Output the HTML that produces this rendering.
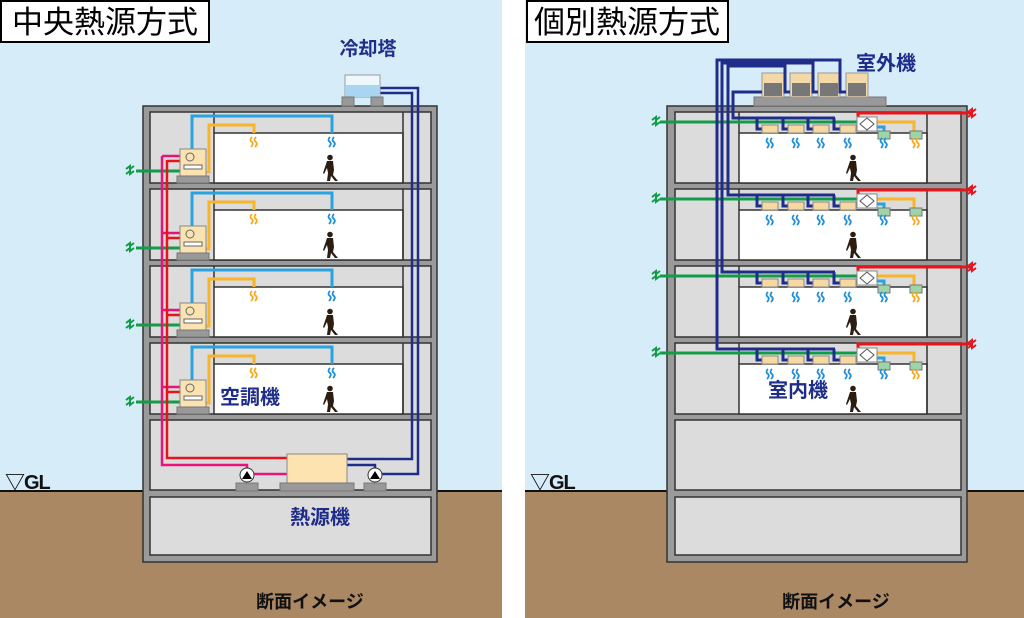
<!DOCTYPE html>
<html><head><meta charset="utf-8"><style>
html,body{margin:0;padding:0;background:#fff;width:1024px;height:618px;overflow:hidden}
svg{display:block}
.lb{font-family:"Liberation Sans","Noto Sans CJK JP",sans-serif;font-weight:bold;fill:#1f2d8a}
</style></head><body>
<svg width="1024" height="618" viewBox="0 0 1024 618" xmlns="http://www.w3.org/2000/svg">
<defs>
<g id="wv"><path d="M1,0 q-3,3 0,5 q2,2 -1,5 M5,0 q-3,3 0,5 q2,2 -1,5" fill="none" stroke-width="1.8"/></g>
<g id="sq"><path d="M0,3 l4,-3 l0,3 l4,-3 M0,8 l4,-3 l0,3 l4,-3" fill="none" stroke-width="2"/></g>
<g id="man" fill="#2b1d12">
<circle cx="3" cy="2.5" r="2.8"/>
<path d="M0,6 h6 l1,9 l-1,5 l5,6 h-3 l-4,-5 l-1,5 h-3 l1,-8 l-1,-5 l-3,6 l-1,-1 z"/>
</g>
<g id="fl">
<rect x="150" y="0" width="281" height="71" fill="#dcdcdc" stroke="#333" stroke-width="1.5"/>
<rect x="214" y="21" width="189" height="50" fill="#fff" stroke="#333" stroke-width="1.5"/>
<path d="M214,0V21M403,0V71" stroke="#333" stroke-width="1.5"/>
<path d="M192,37V4H332V21" fill="none" stroke="#29a3e0" stroke-width="3"/>
<path d="M206,60H209V13H254V21" fill="none" stroke="#f7b52c" stroke-width="3"/>
<use href="#wv" x="251" y="25" stroke="#f7a81c"/>
<use href="#wv" x="329" y="25" stroke="#1f8fd8"/>
<path d="M136,59H180" stroke="#139c47" stroke-width="3"/>
<use href="#sq" x="126" y="54" stroke="#139c47"/>
<path d="M162,44H180" stroke="#e8137d" stroke-width="2.5"/>
<path d="M167,49H180" stroke="#e8141c" stroke-width="2.5"/>
<rect x="180" y="37" width="26" height="27" fill="#fae3b0" stroke="#888"/>
<circle cx="190" cy="45" r="4" fill="none" stroke="#666"/>
<rect x="184" y="53" width="18" height="4" fill="#fff" stroke="#666"/>
<rect x="177" y="64" width="32" height="7" fill="#999" stroke="#777"/>
<use href="#man" x="327" y="43"/>
</g>
<g id="fr">
<rect x="675" y="0" width="286" height="71" fill="#dcdcdc" stroke="#333" stroke-width="1.5"/>
<rect x="739" y="21" width="188" height="50" fill="#fff" stroke="#333" stroke-width="1.5"/>
<path d="M739,0V21M927,0V71" stroke="#333" stroke-width="1.5"/>
<path d="M660,10H862" stroke="#139c47" stroke-width="3"/>
<use href="#sq" x="652" y="5" stroke="#139c47"/>
<path d="M972,1H858V9" fill="none" stroke="#e8141c" stroke-width="3"/>
<use href="#sq" x="968" y="-3" stroke="#e8141c"/>
<path d="M876,10H914V20" fill="none" stroke="#f7b52c" stroke-width="3"/>
<path d="M876,15H884V20" fill="none" stroke="#29a3e0" stroke-width="3"/>
<rect x="857" y="5" width="20" height="14" fill="#fff" stroke="#888"/>
<path d="M867,6l7,6l-7,6l-7,-6z" fill="#fff" stroke="#555"/>
<rect x="878" y="19" width="12" height="8" fill="#9fd4a8" stroke="#777"/>
<rect x="910" y="19" width="12" height="8" fill="#9fd4a8" stroke="#777"/>
<path d="M757,6V17H762M783,6V17H788M808,6V17H813M834,6V17H840" fill="none" stroke="#1f2d8a" stroke-width="3"/>
<rect x="762" y="13" width="16" height="8" fill="#f5d9a0" stroke="#888"/>
<rect x="788" y="13" width="16" height="8" fill="#f5d9a0" stroke="#888"/>
<rect x="813" y="13" width="16" height="8" fill="#f5d9a0" stroke="#888"/>
<rect x="840" y="13" width="16" height="8" fill="#f5d9a0" stroke="#888"/>
<use href="#wv" x="767" y="26" stroke="#1f8fd8"/>
<use href="#wv" x="793" y="26" stroke="#1f8fd8"/>
<use href="#wv" x="818" y="26" stroke="#1f8fd8"/>
<use href="#wv" x="845" y="26" stroke="#1f8fd8"/>
<use href="#wv" x="881" y="26" stroke="#1f8fd8"/>
<use href="#wv" x="913" y="26" stroke="#f7a81c"/>
<use href="#man" x="850" y="43"/>
</g>
</defs>
<rect x="0" y="0" width="502" height="491" fill="#d6ecf8"/>
<rect x="525" y="0" width="499" height="491" fill="#d6ecf8"/>
<rect x="0" y="491" width="502" height="127" fill="#ab8864"/>
<rect x="525" y="491" width="499" height="127" fill="#ab8864"/>
<path d="M0,491H502M525,491H1024" stroke="#111" stroke-width="2"/>
<rect x="143" y="106" width="294" height="456" fill="#9a9a9a" stroke="#333" stroke-width="1.5"/>
<use href="#fl" y="112"/><use href="#fl" y="189"/><use href="#fl" y="266"/><use href="#fl" y="343"/>
<rect x="150" y="420" width="281" height="70" fill="#dcdcdc" stroke="#333" stroke-width="1.5"/>
<rect x="150" y="497" width="281" height="58" fill="#dcdcdc" stroke="#333" stroke-width="1.5"/>
<path d="M162,156V465H247V470" fill="none" stroke="#e8137d" stroke-width="2.5"/>
<path d="M167,160V458H287" fill="none" stroke="#e8141c" stroke-width="2.5"/>
<path d="M253,474H287" stroke="#e8137d" stroke-width="2.5"/>
<path d="M347,459H412V93H378M347,465H375V470M381,474H418V88H378" fill="none" stroke="#1f2d8a" stroke-width="2.5"/>
<rect x="345" y="75" width="35" height="22" fill="#eef7fc" stroke="#999"/>
<rect x="346" y="85" width="33" height="12" fill="#a8d6f2"/>
<rect x="342" y="97" width="12" height="9" fill="#999" stroke="#777"/>
<rect x="371" y="97" width="12" height="9" fill="#999" stroke="#777"/>
<rect x="287" y="454" width="60" height="30" fill="#fce3b0" stroke="#888"/>
<rect x="280" y="483" width="74" height="8" fill="#999" stroke="#777"/>
<rect x="236" y="483" width="22" height="8" fill="#999" stroke="#777"/>
<rect x="364" y="483" width="22" height="8" fill="#999" stroke="#777"/>
<circle cx="247" cy="475" r="7" fill="#fff" stroke="#333"/><path d="M242,479l5,-8l5,8z" fill="#000"/>
<circle cx="375" cy="475" r="7" fill="#fff" stroke="#333"/><path d="M370,479l5,-8l5,8z" fill="#000"/>
<rect x="667" y="106" width="300" height="456" fill="#9a9a9a" stroke="#333" stroke-width="1.5"/>
<use href="#fr" y="112"/><use href="#fr" y="189"/><use href="#fr" y="266"/><use href="#fr" y="343"/>
<rect x="675" y="420" width="286" height="70" fill="#dcdcdc" stroke="#333" stroke-width="1.5"/>
<rect x="675" y="497" width="286" height="58" fill="#dcdcdc" stroke="#333" stroke-width="1.5"/>
<rect x="754" y="97" width="132" height="9" fill="#999" stroke="#777"/>
<g fill="#f3d9a8" stroke="#999">
<rect x="762" y="73" width="22" height="24"/><rect x="790" y="73" width="22" height="24"/>
<rect x="818" y="73" width="22" height="24"/><rect x="846" y="73" width="22" height="24"/></g>
<g fill="#777"><rect x="764" y="83" width="18" height="13"/><rect x="792" y="83" width="18" height="13"/><rect x="820" y="83" width="18" height="13"/><rect x="848" y="83" width="18" height="13"/></g>
<path d="M762,92H733V118H835M790,92H785V66H728V195H835M818,92H813V63H722V272H835M846,92H840V60H717V349H835" fill="none" stroke="#1f2d8a" stroke-width="3"/>
<rect x="1" y="1" width="208" height="41" fill="#fff" stroke="#000" stroke-width="2"/>
<text x="105" y="33" text-anchor="middle" font-family="Liberation Sans,'Noto Sans CJK JP',sans-serif" font-size="31">中央熱源方式</text>
<rect x="527" y="1" width="201" height="41" fill="#fff" stroke="#000" stroke-width="2"/>
<text x="627" y="33" text-anchor="middle" font-family="Liberation Sans,'Noto Sans CJK JP',sans-serif" font-size="31">個別熱源方式</text>
<text class="lb" x="368" y="55" text-anchor="middle" font-size="19">冷却塔</text>
<text class="lb" x="250" y="404" text-anchor="middle" font-size="20">空調機</text>
<text class="lb" x="320" y="524" text-anchor="middle" font-size="20">熱源機</text>
<text class="lb" x="886" y="70" text-anchor="middle" font-size="20">室外機</text>
<text class="lb" x="798" y="397" text-anchor="middle" font-size="20">室内機</text>
<g font-family="Liberation Sans,'Noto Sans CJK JP',sans-serif" font-weight="bold" font-size="18" fill="#111">
<text x="310" y="608" text-anchor="middle">断面イメージ</text>
<text x="836" y="608" text-anchor="middle">断面イメージ</text>
<text x="5" y="489" font-size="20" letter-spacing="-1">▽GL</text>
<text x="530" y="489" font-size="20" letter-spacing="-1">▽GL</text>
</g>
</svg>
</body></html>
